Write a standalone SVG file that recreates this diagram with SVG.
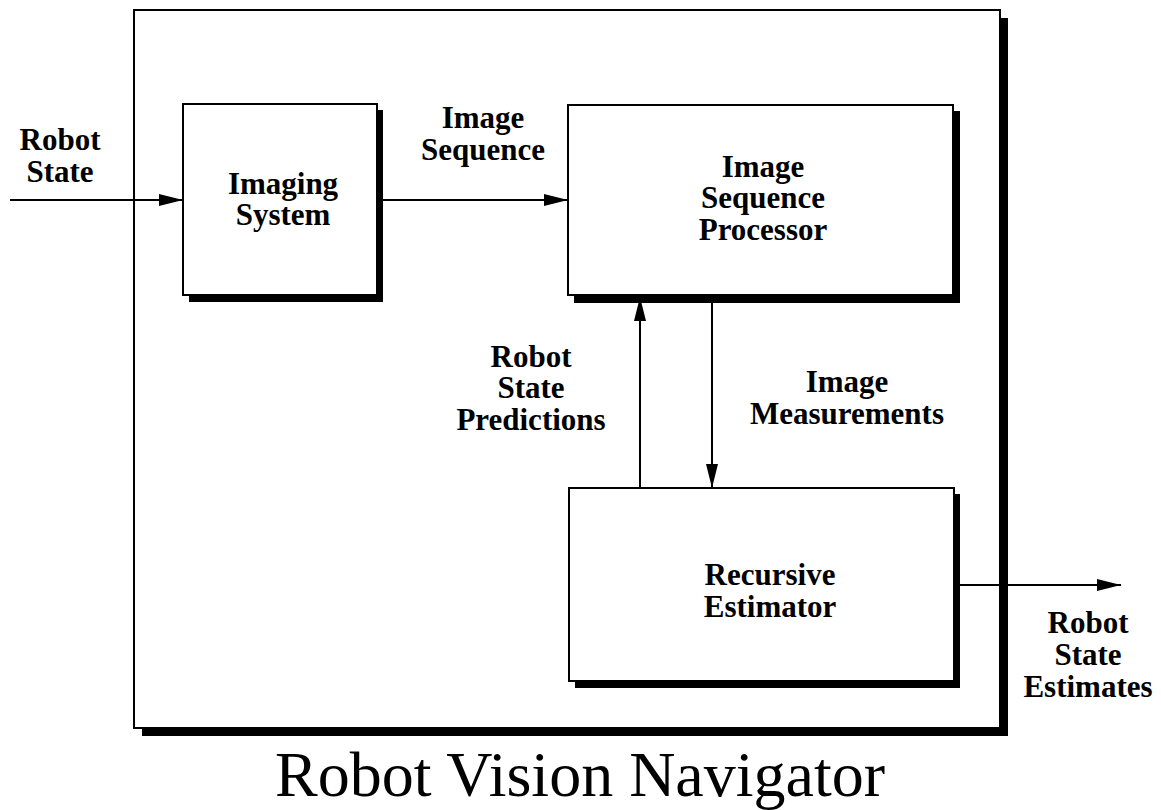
<svg xmlns="http://www.w3.org/2000/svg" width="1161" height="810" viewBox="0 0 1161 810">
  <defs>
    <style>
      .box { fill: #fff; stroke: #000; stroke-width: 2; }
      .shadow { fill: #000; }
      .wire { stroke: #000; stroke-width: 2; fill: none; }
      .lbl { font-family: "Liberation Serif", "Times New Roman", serif; font-weight: bold; font-size: 31px; text-anchor: middle; fill: #000; }
      .title { font-family: "Liberation Serif", "Times New Roman", serif; font-size: 64px; text-anchor: middle; fill: #000; }
    </style>
    <marker id="arrow" viewBox="0 0 24 12" refX="24" refY="6" markerWidth="24" markerHeight="12" markerUnits="userSpaceOnUse" orient="auto">
      <path d="M0,0 L24,6 L0,12 Z" fill="#000"/>
    </marker>
  </defs>

  <rect width="1161" height="810" fill="#fff"/>

  <!-- enclosing system frame with drop shadow -->
  <g id="navigator-frame">
    <rect class="shadow" x="142" y="18" width="866" height="718"/>
    <rect class="box" x="134" y="10" width="866" height="718"/>
  </g>

  <g id="imaging-system">
    <rect class="shadow" x="189" y="110" width="194" height="192"/>
    <rect class="box" x="183" y="104" width="194" height="191"/>
    <text class="lbl" x="283" y="194">Imaging</text>
    <text class="lbl" x="283" y="225">System</text>
  </g>

  <g id="image-sequence-processor">
    <rect class="shadow" x="574" y="111" width="386" height="192"/>
    <rect class="box" x="568" y="105" width="385" height="190"/>
    <text class="lbl" x="763" y="177">Image</text>
    <text class="lbl" x="763" y="208">Sequence</text>
    <text class="lbl" x="763" y="240">Processor</text>
  </g>

  <g id="recursive-estimator">
    <rect class="shadow" x="575" y="494" width="385" height="194"/>
    <rect class="box" x="569" y="488" width="385" height="193"/>
    <text class="lbl" x="770" y="585">Recursive</text>
    <text class="lbl" x="770" y="617">Estimator</text>
  </g>

  <g id="connectors">
    <line class="wire" x1="10" y1="200" x2="183" y2="200" marker-end="url(#arrow)"/>
    <line class="wire" x1="377" y1="200" x2="568" y2="200" marker-end="url(#arrow)"/>
    <line class="wire" x1="640" y1="488" x2="640" y2="297" marker-end="url(#arrow)"/>
    <line class="wire" x1="712" y1="303" x2="712" y2="488" marker-end="url(#arrow)"/>
    <line class="wire" x1="960" y1="585" x2="1121" y2="585" marker-end="url(#arrow)"/>
  </g>

  <g id="connector-labels">
    <text class="lbl" x="60" y="150">Robot</text>
    <text class="lbl" x="60" y="182">State</text>
    <text class="lbl" x="483" y="128">Image</text>
    <text class="lbl" x="483" y="160">Sequence</text>
    <text class="lbl" x="531" y="367">Robot</text>
    <text class="lbl" x="531" y="398">State</text>
    <text class="lbl" x="531" y="430">Predictions</text>
    <text class="lbl" x="847" y="392">Image</text>
    <text class="lbl" x="847" y="424">Measurements</text>
    <text class="lbl" x="1088" y="633">Robot</text>
    <text class="lbl" x="1088" y="665">State</text>
    <text class="lbl" x="1088" y="697">Estimates</text>
  </g>

  <text id="title" class="title" x="580" y="796">Robot Vision Navigator</text>
</svg>
